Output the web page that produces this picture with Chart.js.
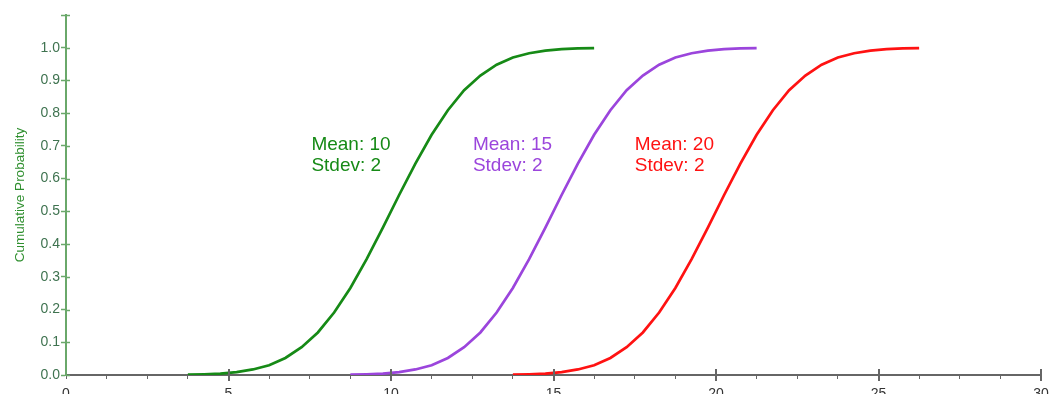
<!DOCTYPE html>
<html>
<head>
<meta charset="utf-8">
<script src="https://cdn.jsdelivr.net/npm/chart.js@4.4.1/dist/chart.umd.min.js"></script>
<style>
  html, body { margin: 0; padding: 0; background: #fff; overflow: hidden; }
  #chart { display: block; }
</style>
</head>
<body>
<canvas id="chart" width="1061" height="420"></canvas>
<script>
// x positions of the plotted points, one list per curve
const xMean10 = [3.75, 4.25, 4.75, 5.25, 5.75, 6.25, 6.75, 7.25, 7.75, 8.25, 8.75, 9.25, 9.75,
  10.25, 10.75, 11.25, 11.75, 12.25, 12.75, 13.25, 13.75, 14.25, 14.75, 15.25, 15.75, 16.25];
const xMean15 = [8.75, 9.25, 9.75, 10.25, 10.75, 11.25, 11.75, 12.25, 12.75, 13.25, 13.75, 14.25, 14.75,
  15.25, 15.75, 16.25, 16.75, 17.25, 17.75, 18.25, 18.75, 19.25, 19.75, 20.25, 20.75, 21.25];
const xMean20 = [13.75, 14.25, 14.75, 15.25, 15.75, 16.25, 16.75, 17.25, 17.75, 18.25, 18.75, 19.25, 19.75,
  20.25, 20.75, 21.25, 21.75, 22.25, 22.75, 23.25, 23.75, 24.25, 24.75, 25.25, 25.75, 26.25];

// cumulative probability
const cumProb10 = [0.001, 0.002, 0.004, 0.009, 0.017, 0.030, 0.052, 0.085, 0.130, 0.191, 0.266, 0.354, 0.450,
  0.550, 0.646, 0.734, 0.809, 0.870, 0.915, 0.948, 0.970, 0.983, 0.991, 0.996, 0.998, 0.999];
const cumProb15 = [0.001, 0.002, 0.004, 0.009, 0.017, 0.030, 0.052, 0.085, 0.130, 0.191, 0.266, 0.354, 0.450,
  0.550, 0.646, 0.734, 0.809, 0.870, 0.915, 0.948, 0.970, 0.983, 0.991, 0.996, 0.998, 0.999];
const cumProb20 = [0.001, 0.002, 0.004, 0.009, 0.017, 0.030, 0.052, 0.085, 0.130, 0.191, 0.266, 0.354, 0.450,
  0.550, 0.646, 0.734, 0.809, 0.870, 0.915, 0.948, 0.970, 0.983, 0.991, 0.996, 0.998, 0.999];

const seriesColors = ['#168a16', '#9b45dc', '#ff1212'];
// annotation text and its anchor (data units)
const labelLines = [['Mean: 10', 'Stdev: 2'], ['Mean: 15', 'Stdev: 2'], ['Mean: 20', 'Stdev: 2']];
const labelAnchorX = [7.55, 12.52, 17.5];
const labelAnchorY = 0.688;

const yAxisColor = '#6aa86a';
const xAxisColor = '#666666';
const fontFamily = '"Liberation Sans", Arial, sans-serif';

function toPoints(xs, ys) {
  return xs.map((x, i) => ({ x: x, y: ys[i] }));
}

// extra tick marks: inner half of y ticks, long crossing ticks on x majors
const axisMarks = {
  id: 'axisMarks',
  afterDraw(chart) {
    const ctx = chart.ctx;
    const xs = chart.scales.x;
    const ys = chart.scales.y;
    const area = chart.chartArea;
    ctx.save();
    ctx.strokeStyle = yAxisColor;
    ctx.lineWidth = 1.5;
    ys.ticks.forEach(t => {
      const py = Math.round(ys.getPixelForValue(t.value)) + 0.5;
      ctx.beginPath();
      ctx.moveTo(area.left, py);
      ctx.lineTo(area.left + 4, py);
      ctx.stroke();
    });
    ctx.strokeStyle = xAxisColor;
    ctx.lineWidth = 2;
    xs.ticks.forEach(t => {
      if (Math.abs(t.value % 5) > 0.001 || t.value === 0) return;
      const px = Math.round(xs.getPixelForValue(t.value));
      ctx.beginPath();
      ctx.moveTo(px, area.bottom - 6);
      ctx.lineTo(px, area.bottom + 6);
      ctx.stroke();
    });
    ctx.restore();
  }
};

// the "Mean / Stdev" captions next to each curve
const curveLabels = {
  id: 'curveLabels',
  afterDatasetsDraw(chart) {
    const ctx = chart.ctx;
    const xs = chart.scales.x;
    const ys = chart.scales.y;
    ctx.save();
    ctx.font = '19px ' + fontFamily;
    ctx.textAlign = 'left';
    ctx.textBaseline = 'alphabetic';
    labelLines.forEach((lines, i) => {
      const px = xs.getPixelForValue(labelAnchorX[i]);
      const py = ys.getPixelForValue(labelAnchorY);
      ctx.fillStyle = seriesColors[i];
      lines.forEach((txt, j) => ctx.fillText(txt, px, py + j * 21.5));
    });
    ctx.restore();
  }
};

function makeDataset(xs, ys, color) {
  return {
    data: toPoints(xs, ys),
    borderColor: color,
    backgroundColor: color,
    borderWidth: 2.7,
    pointRadius: 0,
    tension: 0,
    fill: false
  };
}

const ctx = document.getElementById('chart').getContext('2d');
new Chart(ctx, {
  type: 'line',
  data: {
    datasets: [
      makeDataset(xMean10, cumProb10, seriesColors[0]),
      makeDataset(xMean15, cumProb15, seriesColors[1]),
      makeDataset(xMean20, cumProb20, seriesColors[2])
    ]
  },
  options: {
    responsive: false,
    animation: false,
    layout: { padding: { left: 0, right: 20, top: 15, bottom: 0 } },
    plugins: {
      legend: { display: false },
      tooltip: { enabled: false }
    },
    scales: {
      x: {
        type: 'linear',
        min: 0,
        max: 30,
        afterFit: s => { s.height = 45; },
        border: { display: true, color: xAxisColor, width: 2 },
        grid: { drawOnChartArea: false, drawTicks: true, tickLength: 4, tickColor: xAxisColor, tickWidth: 1 },
        ticks: {
          stepSize: 1.25,
          autoSkip: false,
          maxRotation: 0,
          padding: 7,
          color: '#333333',
          font: { family: fontFamily, size: 14 },
          callback: v => (Math.abs(v % 5) < 0.001 ? String(v) : '')
        }
      },
      y: {
        type: 'linear',
        min: 0,
        max: 1.1,
        afterFit: s => { s.width = 66; },
        border: { display: true, color: yAxisColor, width: 2 },
        grid: { drawOnChartArea: false, drawTicks: true, tickLength: 5, tickColor: yAxisColor, tickWidth: 1.5 },
        title: {
          display: true,
          text: 'Cumulative Probability',
          color: '#2f8f2f',
          padding: { top: 12, bottom: 0 },
          font: { family: fontFamily, size: 13.5 }
        },
        ticks: {
          stepSize: 0.1,
          padding: 1,
          color: '#3f7350',
          font: { family: fontFamily, size: 14 },
          callback: v => (v > 1.05 ? '' : v.toFixed(1))
        }
      }
    }
  },
  plugins: [axisMarks, curveLabels]
});
</script>
</body>
</html>
